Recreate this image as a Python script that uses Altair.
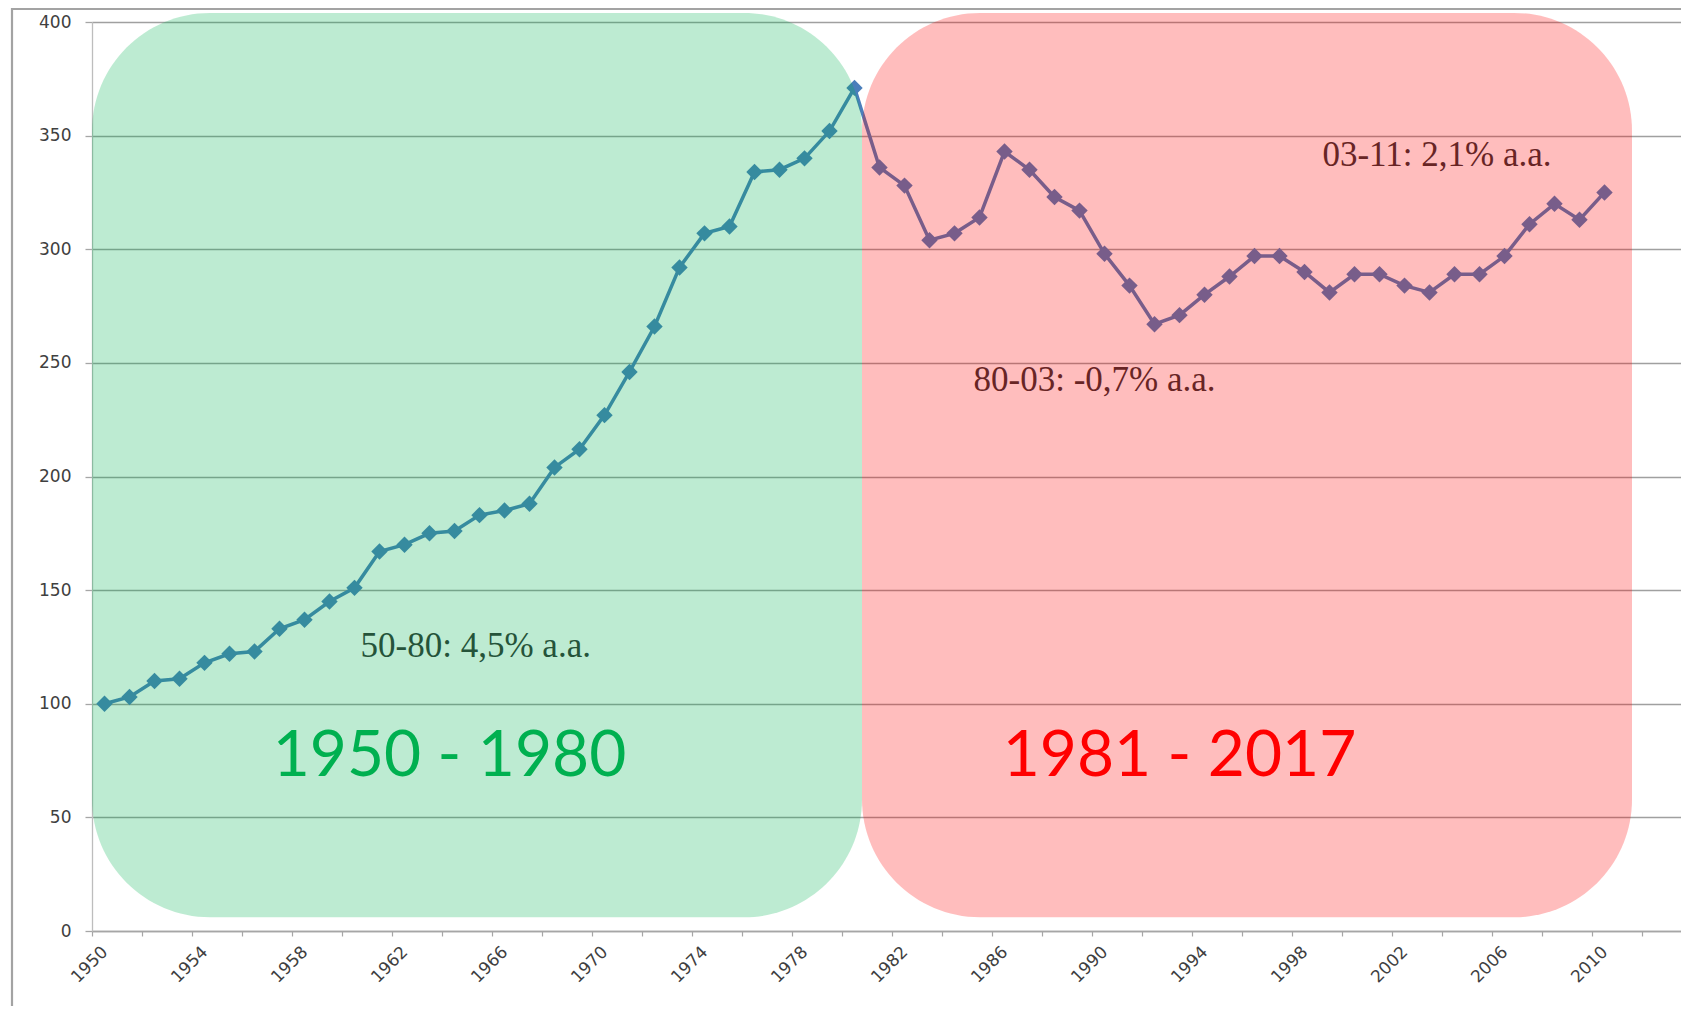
import altair as alt
import pandas as pd

# ---- data -------------------------------------------------------------
years = list(range(1950, 2011))
index_values = [100, 103, 110, 111, 118, 122, 123, 133, 137, 145,
                151, 167, 170, 175, 176, 183, 185, 188, 204, 212,
                227, 246, 266, 292, 307, 310, 334, 335, 340, 352,
                371, 336, 328, 304, 307, 314, 343, 335, 323, 317,
                298, 284, 267, 271, 280, 288, 297, 297, 290, 281,
                289, 289, 284, 281, 289, 289, 297, 311, 320, 313, 325]

period_labels = ["1950 - 1980", "1981 - 2017"]
period_start = [1949.5, 1980.3]
period_end = [1980.3, 2011.1]
period_top = [404, 404]
period_bottom = [6, 6]
period_colors = ["#00B050", "#FF0000"]
period_label_year = [1963.8, 1993.0]
period_label_value = [76.6, 76.6]

annotation_texts = ["50-80: 4,5% a.a.", "80-03: -0,7% a.a.", "03-11: 2,1% a.a."]
annotation_year = [1964.85, 1989.6, 2003.3]
annotation_value = [125.5, 242.5, 341.5]

label_years = list(range(1950, 2011, 4))
tick_positions = [y - 0.5 for y in range(1950, 2014)]
y_ticks = list(range(0, 401, 50))

# ---- tables -----------------------------------------------------------
series = pd.DataFrame({"year": years, "value": index_values})
periods = pd.DataFrame({
    "period": period_labels, "start": period_start, "end": period_end,
    "top": period_top, "bottom": period_bottom,
    "lx": period_label_year, "ly": period_label_value,
})
notes = pd.DataFrame({"text": annotation_texts, "year": annotation_year,
                      "value": annotation_value})

W, H = 1589, 909
x_dom = [1949.5, 2013.06]

label_list = ",".join(str(y) for y in label_years)
x_axis = alt.Axis(
    values=tick_positions,
    labelExpr=f"indexof([{label_list}], datum.value + 0.5) >= 0 ? format(datum.value + 0.5, 'd') : ''",
    labelOffset=12.5, labelAngle=315, labelAlign="right", labelBaseline="middle",
    labelPadding=13, labelFlush=False, labelOverlap=False,
    labelFont="DejaVu Sans", labelFontSize=17, labelColor="#404040",
    tickSize=5, tickColor="#a6a6a6", tickWidth=1.2,
    domainColor="#a6a6a6", domainWidth=1.5, grid=False, title=None,
)
y_axis = alt.Axis(
    values=y_ticks, labelFont="DejaVu Sans", labelFontSize=17, labelColor="#404040",
    labelPadding=14, tickSize=7, tickColor="#a6a6a6", tickWidth=1.3,
    domainColor="#bdbdbd", domainWidth=1.3, grid=True, gridColor="#a0a0a0",
    gridWidth=1.5, title=None,
)
xs = alt.Scale(domain=x_dom, nice=False, zero=False)
ys = alt.Scale(domain=[0, 400], nice=False)

frame = alt.Chart(pd.DataFrame({"a": [0]})).mark_rect(
    fillOpacity=0, stroke="#a3a3a3", strokeWidth=2.2
).encode(x=alt.value(-80), x2=alt.value(W + 20), y=alt.value(-13), y2=alt.value(H + 200))

line = alt.Chart(series).mark_line(color="#4a7ebb", strokeWidth=3.5).encode(
    x=alt.X("year:Q", scale=xs, axis=x_axis),
    y=alt.Y("value:Q", scale=ys, axis=y_axis),
)
points = alt.Chart(series).mark_point(
    shape="diamond", filled=True, size=270, color="#4a7ebb", opacity=1
).encode(x=alt.X("year:Q", scale=xs), y=alt.Y("value:Q", scale=ys))

note_text = alt.Chart(notes).mark_text(
    font="Liberation Serif", fontSize=35, color="#333333", align="center", baseline="middle"
).encode(x=alt.X("year:Q", scale=xs), y=alt.Y("value:Q", scale=ys), text="text:N")

color_scale = alt.Scale(domain=period_labels, range=period_colors)
boxes = alt.Chart(periods).mark_rect(cornerRadius=118, opacity=0.26).encode(
    x=alt.X("start:Q", scale=xs), x2="end:Q",
    y=alt.Y("top:Q", scale=ys), y2="bottom:Q",
    color=alt.Color("period:N", scale=color_scale, legend=None),
)
big_text = alt.Chart(periods).mark_text(
    font="Lato", fontSize=64, align="center", baseline="middle"
).encode(
    x=alt.X("lx:Q", scale=xs), y=alt.Y("ly:Q", scale=ys), text="period:N",
    color=alt.Color("period:N", scale=color_scale, legend=None),
)

chart = alt.layer(frame, line, points, note_text, boxes, big_text).properties(
    width=W, height=H,
    autosize=alt.AutoSizeParams(type="none"),
    padding={"left": 84, "top": 14, "right": 0, "bottom": 75},
    background="white",
).configure_view(strokeOpacity=0)

chart.save("out.html", embed_options={"renderer": "svg", "actions": False})
